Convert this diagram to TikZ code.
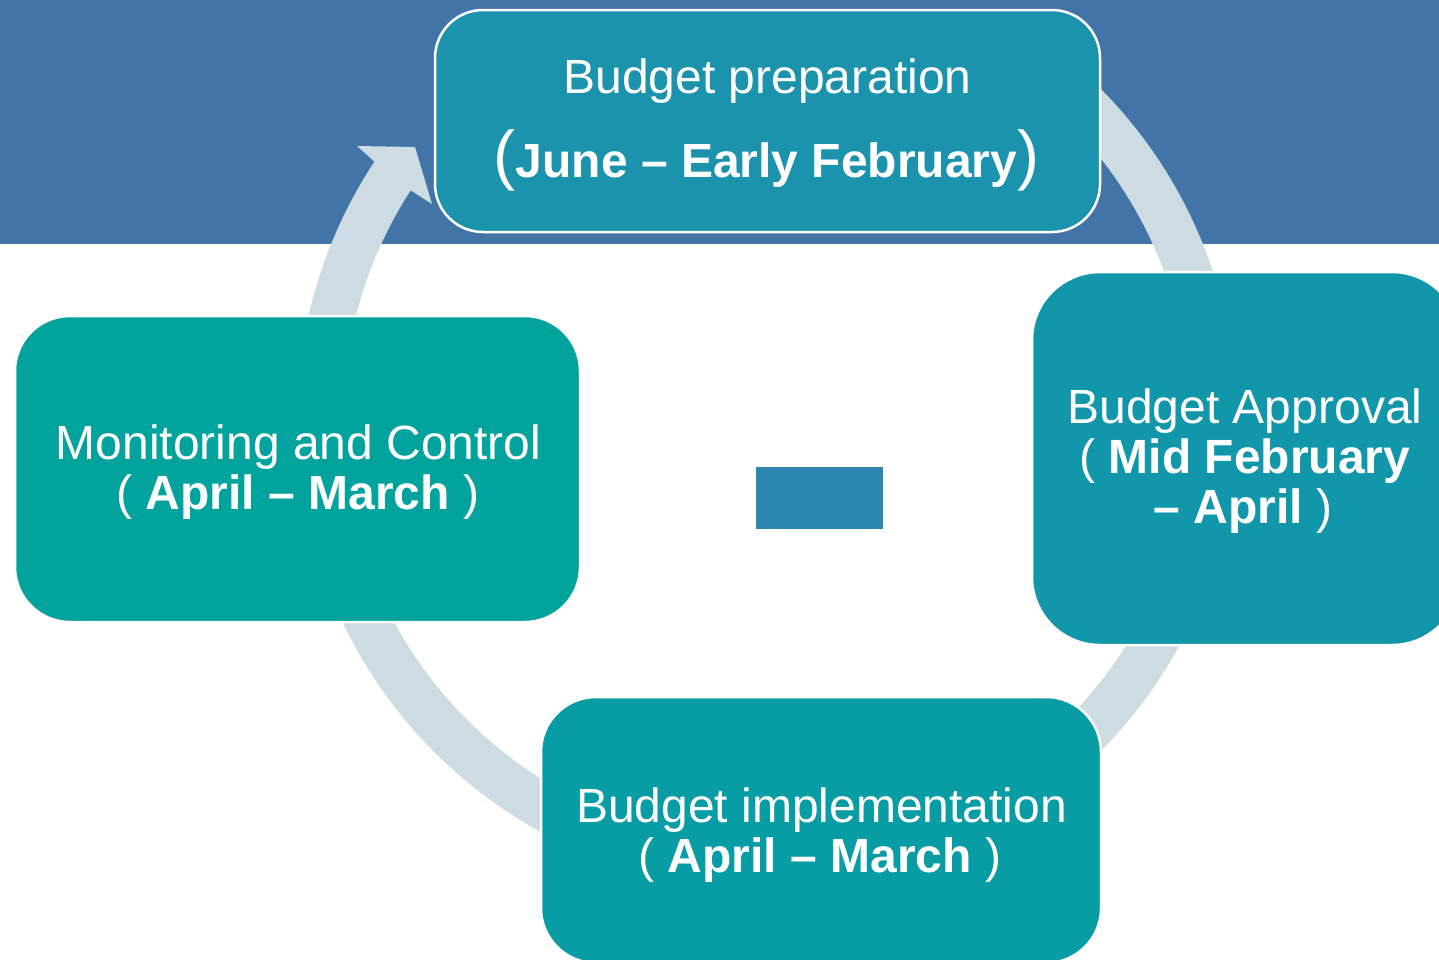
\documentclass[tikz,border=0pt]{standalone}
\usepackage{fontspec}
\setmainfont{Liberation Sans}
\usetikzlibrary{calc}
\definecolor{bandblue}{RGB}{67,116,168}
\definecolor{ringgrey}{RGB}{205,220,227}
\definecolor{prepfill}{RGB}{27,147,172}
\definecolor{apprfill}{RGB}{17,151,169}
\definecolor{implfill}{RGB}{8,156,165}
\definecolor{monfill}{RGB}{2,162,157}
\definecolor{midblue}{RGB}{45,134,175}
\newcommand{\bigparen}[1]{{\fontsize{66}{70}\selectfont #1}}
\begin{document}
\begin{tikzpicture}[x=1pt,y=-1pt,
  stage/.style={rectangle, inner sep=0pt, draw=white, line width=2.5pt},
  label/.style={text=white, inner sep=0pt, anchor=base,
                font=\fontsize{48}{56}\selectfont}]
\useasboundingbox (0,0) rectangle (1439,959);
\clip (0,0) rectangle (1439,959);
\fill[white] (0,0) rectangle (1439,959);
% blue header band
\fill[bandblue] (0,0) rectangle (1439,244);

% circular arrow running clockwise behind the stages
\coordinate (c) at (767,420);
\coordinate (headout) at ($(c)+(213.35:470)$);
\coordinate (headin) at ($(c)+(212.8:424)$);
\coordinate (barb) at (357,146);
\coordinate (tipa) at (415,147);
\coordinate (tipb) at (432,204);
\fill[ringgrey] ($(c)+(-55:470)$)
  arc[start angle=-55, end angle=213.35, radius=470]
  -- (barb) -- (tipa) -- (tipb) -- (headin)
  arc[start angle=212.8, end angle=-55, radius=424] -- cycle;

% stages
\node[stage, fill=prepfill, rounded corners=48pt,
      minimum width=665pt, minimum height=222pt] (prep) at (767.5,121) {};
\node[stage, fill=apprfill, rounded corners=68pt,
      minimum width=428pt, minimum height=373pt] (appr) at (1246,458.5) {};
\node[stage, fill=implfill, rounded corners=55pt,
      minimum width=560pt, minimum height=266pt] (impl) at (821,830) {};
\node[stage, fill=monfill, rounded corners=55pt,
      minimum width=565pt, minimum height=306pt] (mon) at (297.5,469) {};

% small block in the middle
\node[rectangle, fill=midblue, inner sep=0pt,
      minimum width=127pt, minimum height=62pt] (mid) at (819.5,498) {};

% stage texts
\node[label] (prep1) at (767.5,93) {Budget preparation};
\node[label] (prep2) at (766.5,177) {\bigparen{(}\textbf{June – Early February}\bigparen{)}};

\node[label] (appr1) at (1245,423) {Budget Approval};
\node[label] (appr2) at (1245,473) {( \textbf{Mid February}};
\node[label] (appr3) at (1243,523) {\textbf{– April} )};

\node[label] (impl1) at (821.5,822) {Budget implementation};
\node[label] (impl2) at (820,872) {( \textbf{April – March} )};

\node[label] (mon1) at (298.5,459) {Monitoring and Control};
\node[label] (mon2) at (298,509) {( \textbf{April – March} )};
\end{tikzpicture}
\end{document}
